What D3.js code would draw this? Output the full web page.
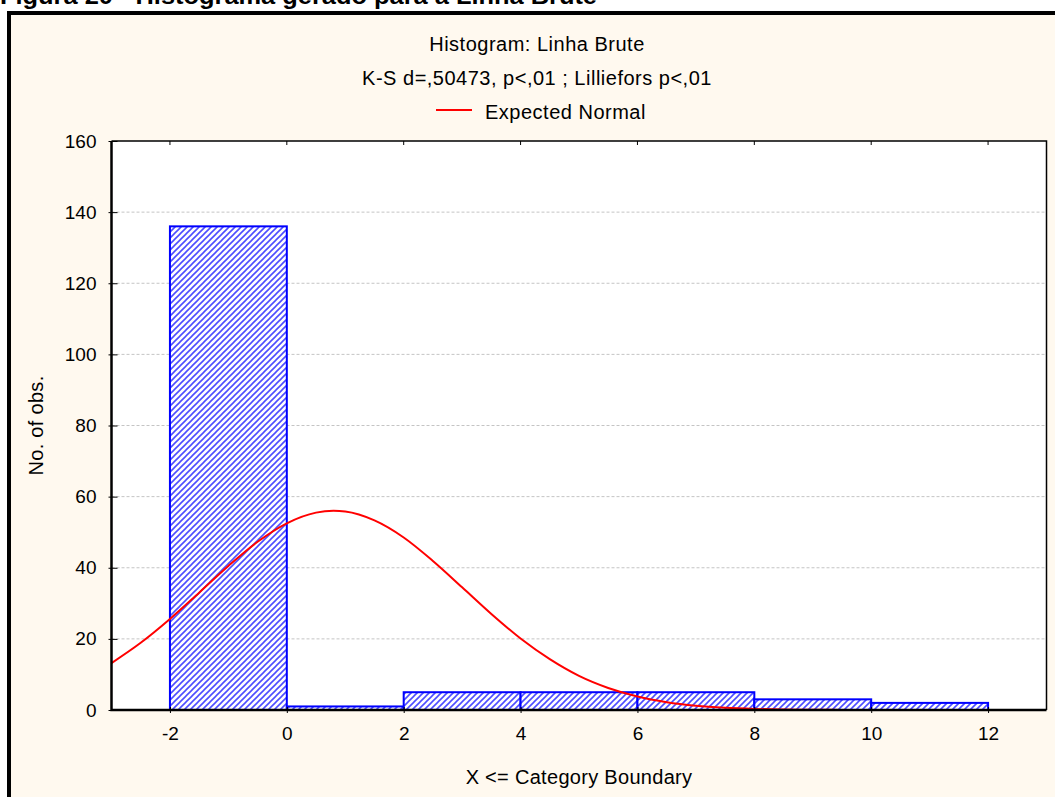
<!DOCTYPE html>
<html>
<head>
<meta charset="utf-8">
<script src="https://cdn.jsdelivr.net/npm/d3@7"></script>
<style>
  body { margin: 0; background: #fff; }
  svg { display: block; font-family: "Liberation Sans", Arial, sans-serif; }
</style>
</head>
<body>
<div id="chart"></div>
<script>
// histogram bins (category boundaries) and counts
const binEdges = [-2, 0, 2, 4, 6, 8, 10, 12];
const binCounts = [136, 1, 5, 5, 5, 3, 2];

// expected normal curve
const curveX = [-3, -2.5, -2, -1.5, -1, -0.5, 0, 0.5, 0.8, 1, 1.5, 2, 2.5, 3, 3.5, 4, 4.5, 5, 5.5, 6, 6.5, 7, 7.5, 8, 8.5, 9, 9.5, 10, 11, 12, 13];
const curveY = [13.2, 18.9, 25.6, 33.0, 40.5, 47.3, 52.5, 55.5, 56.0, 55.8, 53.3, 48.5, 41.9, 34.5, 27.0, 20.1, 14.3, 9.6, 6.2, 3.8, 2.2, 1.2, 0.63, 0.31, 0.15, 0.07, 0.03, 0.01, 0, 0, 0];

const xTicks = [-2, 0, 2, 4, 6, 8, 10, 12];
const yTicks = [0, 20, 40, 60, 80, 100, 120, 140, 160];

const width = 1055, height = 797;
const plot = {left: 111.5, right: 1046.5, top: 141, bottom: 710};

const svg = d3.select("#chart").append("svg")
    .attr("width", width)
    .attr("height", height);

// hatch pattern for the bars
const defs = svg.append("defs");
defs.append("pattern")
    .attr("id", "hatch")
    .attr("patternUnits", "userSpaceOnUse")
    .attr("width", 6)
    .attr("height", 6)
    .call(p => {
        p.append("rect").attr("width", 6).attr("height", 6).attr("fill", "#fff");
        p.append("path")
            .attr("d", "M-1,1 l2,-2 M0,6 l6,-6 M5,7 l2,-2")
            .attr("stroke", "#4d4dff")
            .attr("stroke-width", 1.6);
    });
defs.append("clipPath").attr("id", "clip")
    .append("rect")
    .attr("x", plot.left).attr("y", plot.top)
    .attr("width", plot.right - plot.left)
    .attr("height", plot.bottom - plot.top);

// caption above the frame (cut off at the top, as in the source)
svg.append("text")
    .attr("x", 0)
    .attr("y", 4)
    .attr("textLength", 597)
    .attr("lengthAdjust", "spacingAndGlyphs")
    .style("font-size", "24px")
    .style("font-weight", "bold")
    .text("Figura 20 - Histograma gerado para a Linha Brute");

// frame
svg.append("rect")
    .attr("x", 9).attr("y", 13)
    .attr("width", 1100).attr("height", 900)
    .attr("fill", "#fff9ef")
    .attr("stroke", "#000")
    .attr("stroke-width", 4);

const x = d3.scaleLinear().domain([-3, 13]).range([plot.left, plot.right]);
const y = d3.scaleLinear().domain([0, 160]).range([plot.bottom, plot.top]);

// plot background
svg.append("rect")
    .attr("x", plot.left).attr("y", plot.top)
    .attr("width", plot.right - plot.left)
    .attr("height", plot.bottom - plot.top)
    .attr("fill", "#fff");

// grid lines
svg.append("g")
    .selectAll("line")
    .data(yTicks.filter(d => d > 0 && d < 160))
    .join("line")
    .attr("x1", plot.left).attr("x2", plot.right)
    .attr("y1", d => y(d)).attr("y2", d => y(d))
    .attr("stroke", "#c4c4c4")
    .attr("stroke-dasharray", "3,2");

// bars
const bins = binCounts.map((c, i) => ({x0: binEdges[i], x1: binEdges[i + 1], count: c}));
svg.append("g")
    .selectAll("rect")
    .data(bins)
    .join("rect")
    .attr("x", d => x(d.x0))
    .attr("y", d => y(d.count))
    .attr("width", d => x(d.x1) - x(d.x0))
    .attr("height", d => y(0) - y(d.count))
    .attr("fill", "url(#hatch)")
    .attr("stroke", "#0000ff")
    .attr("stroke-width", 2);

// expected normal curve
const line = d3.line()
    .x((d, i) => x(curveX[i]))
    .y(d => y(d))
    .curve(d3.curveMonotoneX);
svg.append("path")
    .datum(curveY)
    .attr("clip-path", "url(#clip)")
    .attr("d", line)
    .attr("fill", "none")
    .attr("stroke", "#ff0000")
    .attr("stroke-width", 2);

// axes
const yAxis = d3.axisLeft(y).tickValues(yTicks).tickFormat(d => String(d)).tickSize(3).tickPadding(12);
svg.append("g")
    .attr("transform", `translate(${plot.left},0)`)
    .call(yAxis)
    .call(g => g.select(".domain").remove())
    .call(g => g.selectAll("line").attr("x2", 6).attr("x1", -3).attr("stroke", "#000"))
    .call(g => g.selectAll("text")
        .style("font-size", "19px")
        .style("font-family", "Liberation Sans, Arial, sans-serif")
        .attr("fill", "#000"));

const xAxis = d3.axisBottom(x).tickValues(xTicks).tickFormat(d => String(d)).tickSize(3).tickPadding(14);
svg.append("g")
    .attr("transform", `translate(0,${plot.bottom})`)
    .call(xAxis)
    .call(g => g.select(".domain").remove())
    .call(g => g.selectAll("line").attr("y1", -3).attr("y2", 3).attr("stroke", "#000"))
    .call(g => g.selectAll("text")
        .style("font-size", "19px")
        .style("font-family", "Liberation Sans, Arial, sans-serif")
        .attr("fill", "#000"));

// top ticks, pointing inward
svg.append("g")
    .selectAll("line")
    .data(xTicks)
    .join("line")
    .attr("x1", d => x(d)).attr("x2", d => x(d))
    .attr("y1", plot.top).attr("y2", plot.top + 4)
    .attr("stroke", "#000");

// plot border
svg.append("path")
    .attr("d", `M${plot.left},${plot.top}H${plot.right}V${plot.bottom}`)
    .attr("fill", "none")
    .attr("stroke", "#000")
    .attr("stroke-width", 1.5);
svg.append("path")
    .attr("d", `M${plot.left},${plot.top}V${plot.bottom}H${plot.right}`)
    .attr("fill", "none")
    .attr("stroke", "#000")
    .attr("stroke-width", 2.5);

// titles
svg.append("text")
    .attr("x", 537).attr("y", 51)
    .attr("text-anchor", "middle")
    .style("font-size", "20px")
    .style("letter-spacing", "0.5px")
    .text("Histogram: Linha Brute");
svg.append("text")
    .attr("x", 537).attr("y", 85)
    .attr("text-anchor", "middle")
    .style("font-size", "20px")
    .style("letter-spacing", "0.5px")
    .text("K-S d=,50473, p<,01 ; Lilliefors p<,01");

// legend
svg.append("line")
    .attr("x1", 436).attr("x2", 472)
    .attr("y1", 110).attr("y2", 110)
    .attr("stroke", "#ff0000")
    .attr("stroke-width", 2);
svg.append("text")
    .attr("x", 485).attr("y", 119)
    .style("font-size", "20px")
    .style("letter-spacing", "0.5px")
    .text("Expected Normal");

// axis labels
svg.append("text")
    .attr("x", (plot.left + plot.right) / 2).attr("y", 784)
    .attr("text-anchor", "middle")
    .style("font-size", "20px")
    .style("letter-spacing", "0.3px")
    .text("X <= Category Boundary");
svg.append("text")
    .attr("transform", `translate(43,${(plot.top + plot.bottom) / 2}) rotate(-90)`)
    .attr("text-anchor", "middle")
    .style("font-size", "20px")
    .style("letter-spacing", "0.3px")
    .text("No. of obs.");
</script>
</body>
</html>
